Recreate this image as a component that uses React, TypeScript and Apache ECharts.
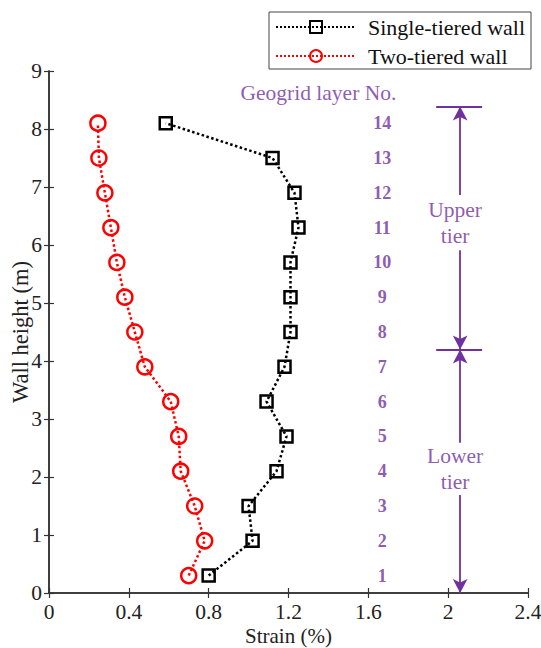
import React, { useEffect, useRef } from "react";
import * as echarts from "echarts";

const heights = [0.3, 0.9, 1.5, 2.1, 2.7, 3.3, 3.9, 4.5, 5.1, 5.7, 6.3, 6.9, 7.5, 8.1];
const singleStrain = [0.8, 1.02, 1.0, 1.14, 1.19, 1.09, 1.18, 1.21, 1.21, 1.21, 1.25, 1.23, 1.12, 0.585];
const twoStrain = [0.7, 0.78, 0.73, 0.66, 0.65, 0.61, 0.48, 0.43, 0.38, 0.34, 0.31, 0.28, 0.25, 0.245];
const layerNos = ["1", "2", "3", "4", "5", "6", "7", "8", "9", "10", "11", "12", "13", "14"];
const layerNoX = 1.67;
const xTickValues = [0, 0.4, 0.8, 1.2, 1.6, 2, 2.4];
const yTickValues = [0, 1, 2, 3, 4, 5, 6, 7, 8, 9];
const tierArrowX = 2.06;
const tierTextX = 2.035;
const tierBounds = [0, 4.2, 8.39];
const tierTextGaps = [
  [1.69, 2.59],
  [5.91, 6.86],
];
const tierLabels = ["Lower\ntier", "Upper\ntier"];
const headerLabel = "Geogrid layer No.";
const headerPos = [1.35, 8.62];
const seriesNames = ["Single-tiered wall", "Two-tiered wall"];

const PURPLE = "#7030A0";
const FONT = "Liberation Serif";

export default function App() {
  const ref = useRef<HTMLDivElement>(null);
  useEffect(() => {
    if (!ref.current) return;
    const chart = echarts.init(ref.current, undefined, { renderer: "svg" });
    const axisColor = "#333";
    const tierMarkLines: any[] = [];
    for (let i = 0; i < 2; i++) {
      const lo = tierBounds[i];
      const hi = tierBounds[i + 1];
      const [g0, g1] = tierTextGaps[i];
      tierMarkLines.push([
        { coord: [tierArrowX, hi], symbol: "arrow" },
        { coord: [tierArrowX, g1], symbol: "none" },
      ]);
      tierMarkLines.push([
        { coord: [tierArrowX, g0], symbol: "none" },
        { coord: [tierArrowX, lo], symbol: "arrow" },
      ]);
    }
    for (const b of tierBounds.slice(1)) {
      tierMarkLines.push([
        { coord: [tierArrowX - 0.12, b], symbol: "none" },
        { coord: [tierArrowX + 0.11, b], symbol: "none" },
      ]);
    }
    const txt = (size: number, color: string, extra: any = {}) => ({
      fontFamily: FONT,
      fontSize: size,
      color,
      ...extra,
    });
    chart.setOption({
      animation: false,
      textStyle: { fontFamily: FONT, fontSize: 21 },
      grid: { left: 49, top: 71, right: 13, bottom: 55, containLabel: false, outerBoundsMode: "none" },
      legend: {
        data: seriesNames,
        orient: "vertical",
        left: 269,
        top: 12,
        width: 259,
        backgroundColor: "#fff",
        borderColor: "#444",
        borderWidth: 1,
        borderRadius: 0,
        padding: [4, 6, 2, 6],
        itemWidth: 80,
        itemHeight: 15,
        itemGap: 7,
        textStyle: txt(22, "#111", { padding: [0, 0, 0, 7] }),
      },
      xAxis: [
        {
          type: "value",
          min: 0,
          max: 2.4,
          interval: 0.4,
          name: "Strain (%)",
          nameLocation: "middle",
          nameGap: 32,
          nameMoveOverlap: false,
          nameTextStyle: txt(21, "#222"),
          axisLine: { lineStyle: { color: axisColor, width: 1.5 } },
          axisTick: { inside: true, length: 5, lineStyle: { color: axisColor, width: 1.2 } },
          axisLabel: {
            ...txt(21.5, "#222"),
            margin: 8,
            formatter: (v: number) => {
              const t = xTickValues.find((x) => Math.abs(x - v) < 1e-6);
              return t === undefined ? "" : String(t);
            },
          },
          splitLine: { show: false },
        },
        {
          type: "value",
          position: "top",
          min: 0,
          max: 2.4,
          interval: 0.4,
          axisLine: { show: true, lineStyle: { color: axisColor, width: 1.5 } },
          axisTick: { show: true, inside: true, length: 5, lineStyle: { color: axisColor, width: 1.2 } },
          axisLabel: { show: false },
          splitLine: { show: false },
        },
      ],
      yAxis: [
        {
          type: "value",
          min: 0,
          max: 9,
          interval: 1,
          name: "Wall height (m)",
          nameLocation: "middle",
          nameGap: 17,
          nameMoveOverlap: false,
          nameTextStyle: txt(22.5, "#222"),
          axisLine: { show: true, lineStyle: { color: axisColor, width: 1.5 } },
          axisTick: { show: true, inside: true, length: 5, lineStyle: { color: axisColor, width: 1.2 } },
          axisLabel: {
            ...txt(21.5, "#222"),
            margin: 7,
            formatter: (v: number) => {
              const t = yTickValues.find((x) => Math.abs(x - v) < 1e-6);
              return t === undefined ? "" : String(t);
            },
          },
          splitLine: { show: false },
        },
        {
          type: "value",
          position: "right",
          min: 0,
          max: 9,
          interval: 1,
          axisLine: { show: true, lineStyle: { color: axisColor, width: 1.5 } },
          axisTick: { show: true, inside: true, length: 5, lineStyle: { color: axisColor, width: 1.2 } },
          axisLabel: { show: false },
          splitLine: { show: false },
        },
      ],
      series: [
        {
          name: seriesNames[0],
          type: "line",
          data: heights.map((h, i) => [singleStrain[i], h]),
          symbol: "rect",
          symbolSize: 12,
          lineStyle: { color: "#000", width: 2.5, type: "dotted" },
          itemStyle: { color: "rgba(255,255,255,0)", borderColor: "#000", borderWidth: 2.5 },
          z: 3,
        },
        {
          name: seriesNames[1],
          type: "line",
          data: heights.map((h, i) => [twoStrain[i], h]),
          symbol: "circle",
          symbolSize: 15,
          lineStyle: { color: "#ff0000", width: 2.5, type: "dotted" },
          itemStyle: { color: "rgba(255,255,255,0)", borderColor: "#ff0000", borderWidth: 2.5 },
          z: 3,
        },
        {
          name: "layers",
          type: "scatter",
          symbolSize: 0,
          silent: true,
          data: heights.map((h, i) => ({ value: [layerNoX, h], label: { formatter: layerNos[i] } })),
          label: {
            show: true,
            position: "inside",
            ...txt(18, PURPLE, { fontWeight: "bold" }),
          },
          markLine: {
            silent: true,
            symbolSize: [11, 14],
            lineStyle: { color: PURPLE, width: 1.8, type: "solid" },
            label: { show: false },
            data: tierMarkLines,
          },
        },
        {
          name: "texts",
          type: "scatter",
          symbolSize: 0,
          silent: true,
          data: [
            { value: headerPos, label: { formatter: headerLabel } },
            { value: [tierTextX, (tierTextGaps[0][0] + tierTextGaps[0][1]) / 2], label: { formatter: tierLabels[0] } },
            { value: [tierTextX, (tierTextGaps[1][0] + tierTextGaps[1][1]) / 2], label: { formatter: tierLabels[1] } },
          ],
          label: {
            show: true,
            position: "inside",
            ...txt(21.5, PURPLE, { lineHeight: 26, align: "center" }),
          },
        },
      ],
    });
    return () => chart.dispose();
  }, []);
  return <div ref={ref} style={{ width: 541, height: 648, position: "absolute", left: 0, top: 0 }} />;
}
